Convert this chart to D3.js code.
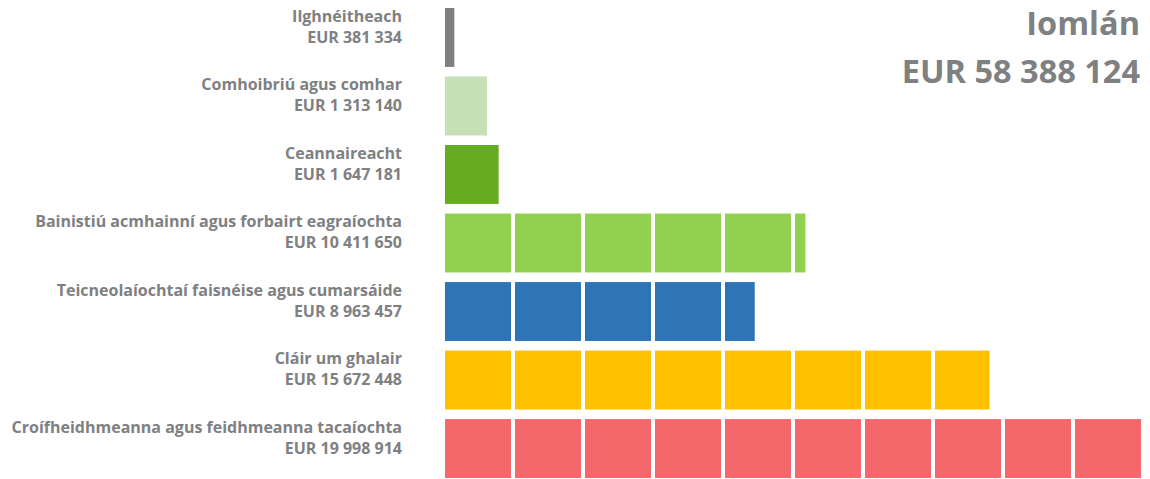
<!DOCTYPE html>
<html>
<head>
<meta charset="utf-8">
<script src="https://cdn.jsdelivr.net/npm/d3@7"></script>
<style>
  html, body { margin: 0; padding: 0; background: #fff; }
  svg { display: block; }
  text { font-family: "Open Sans", "DejaVu Sans", sans-serif; font-weight: 700; fill: #7e8082; }
</style>
</head>
<body>
<svg id="chart" width="1150" height="479"></svg>
<script>
// Data
const categories = [
  "Ilghnéitheach",
  "Comhoibriú agus comhar",
  "Ceannaireacht",
  "Bainistiú acmhainní agus forbairt eagraíochta",
  "Teicneolaíochtaí faisnéise agus cumarsáide",
  "Cláir um ghalair",
  "Croífheidhmeanna agus feidhmeanna tacaíochta"
];
const values = [381334, 1313140, 1647181, 10411650, 8963457, 15672448, 19998914];
const valueLabels = ["EUR 381 334", "EUR 1 313 140", "EUR 1 647 181", "EUR 10 411 650", "EUR 8 963 457", "EUR 15 672 448", "EUR 19 998 914"];
const colors = ["#7f7f7f", "#c5e0b4", "#66ab22", "#92d050", "#2e75b6", "#ffc000", "#f4676a"];
const totalTitle = "Iomlán";
const totalLabel = "EUR 58 388 124";
const blockSize = 2000000;

const svg = d3.select("#chart");
const x = d3.scaleLinear().domain([0, 20000000]).range([445, 1145]);
const y = d3.scaleBand().domain(categories).range([8, 478]).paddingInner(0.14).paddingOuter(0);
const gap = 4;

// Build blocks
const blocks = [];
categories.forEach((c, i) => {
  const v = values[i];
  const n = Math.ceil(v / blockSize);
  for (let k = 0; k < n; k++) {
    const s = k * blockSize, e = Math.min(v, (k + 1) * blockSize);
    blocks.push({cat: c, i, s, e});
  }
});

svg.append("g").selectAll("rect").data(blocks).join("rect")
  .attr("x", d => x(d.s))
  .attr("y", d => y(d.cat))
  .attr("width", d => Math.max(1, x(d.e) - x(d.s) - gap))
  .attr("height", y.bandwidth())
  .attr("fill", d => colors[d.i]);

// Labels
const lg = svg.append("g").selectAll("text").data(categories).join("text")
  .attr("text-anchor", "end")
  .style("font-size", "16px");
lg.append("tspan").attr("x", 402).attr("y", d => y(d) + 13.8).text(d => d);
lg.append("tspan").attr("x", 402).attr("y", (d, i) => y(d) + 34.8).text((d, i) => valueLabels[i]);

// Total
const t = svg.append("text").attr("text-anchor", "end").style("font-size", "32.5px");
t.append("tspan").attr("x", 1140).attr("y", 35).text(totalTitle);
t.append("tspan").attr("x", 1140).attr("y", 83).text(totalLabel);
</script>
</body>
</html>
